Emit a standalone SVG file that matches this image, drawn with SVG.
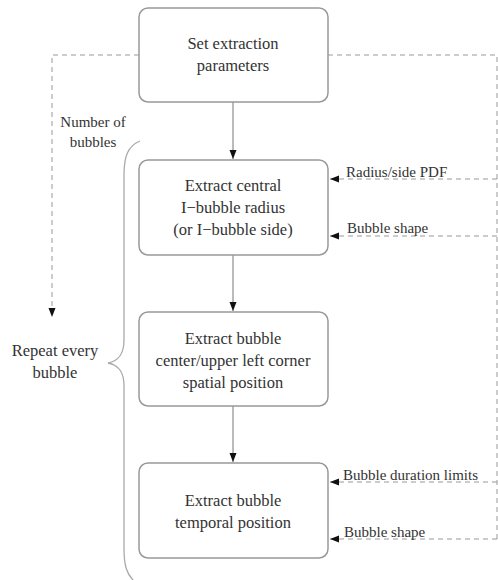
<svg xmlns="http://www.w3.org/2000/svg" width="498" height="580" viewBox="0 0 498 580">
<style>
.box{fill:#fff;stroke:#999;stroke-width:1.5}
.t{font-size:16.5px;fill:#333;text-anchor:middle}
.s{font-size:15px;fill:#333}
.solid{fill:none;stroke:#777;stroke-width:1}
.dash{fill:none;stroke:#999;stroke-width:1;stroke-dasharray:5,4}
.brace{fill:none;stroke:#aaa;stroke-width:1.3}
</style>
<defs>
<marker id="ah" markerWidth="10" markerHeight="8" refX="9" refY="4" orient="auto" markerUnits="userSpaceOnUse">
<path d="M0,0.5 L9,4 L0,7.5 Z" fill="#111"/>
</marker>
</defs>
<rect width="498" height="580" fill="#fff"/>
<g id="connectors">
<line class="solid" x1="233" y1="102" x2="233" y2="159" marker-end="url(#ah)"/>
<line class="solid" x1="233" y1="255" x2="233" y2="311" marker-end="url(#ah)"/>
<line class="solid" x1="233" y1="406" x2="233" y2="462" marker-end="url(#ah)"/>
<polyline class="dash" points="139,55 52,55 52,317" marker-end="url(#ah)"/>
<polyline class="dash" points="328,55 497,55 497,539"/>
<line class="dash" x1="497" y1="179" x2="330" y2="179" marker-end="url(#ah)"/>
<line class="dash" x1="497" y1="236" x2="330" y2="236" marker-end="url(#ah)"/>
<line class="dash" x1="497" y1="482" x2="330" y2="482" marker-end="url(#ah)"/>
<line class="dash" x1="497" y1="539" x2="330" y2="539" marker-end="url(#ah)"/>
<path class="brace" d="M140,141 C128,146 124,156 124,175 L124,340 C124,355 118,361 108,363 C118,365 124,371 124,386 L124,548 C124,566 127,574 133,580"/>
</g>
<g font-family="'Liberation Serif', 'Times New Roman', 'DejaVu Serif', serif">
<g id="n1">
<rect class="box" x="139" y="8" width="189" height="94" rx="9"/>
<text class="t" x="233" y="49">Set extraction</text>
<text class="t" x="233" y="71">parameters</text>
</g>
<g id="n2">
<rect class="box" x="139" y="160" width="189" height="95" rx="9"/>
<text class="t" x="233" y="191">Extract central</text>
<text class="t" x="233" y="213">I−bubble radius</text>
<text class="t" x="233" y="235">(or I−bubble side)</text>
</g>
<g id="n3">
<rect class="box" x="139" y="312" width="189" height="94" rx="9"/>
<text class="t" x="233" y="344">Extract bubble</text>
<text class="t" x="233" y="366">center/upper left corner</text>
<text class="t" x="233" y="388">spatial position</text>
</g>
<g id="n4">
<rect class="box" x="139" y="463" width="189" height="95" rx="9"/>
<text class="t" x="233" y="506">Extract bubble</text>
<text class="t" x="233" y="528">temporal position</text>
</g>
<g id="labels">
<text class="s" x="93" y="127" text-anchor="middle">Number of</text>
<text class="s" x="93" y="147" text-anchor="middle">bubbles</text>
<text class="t" x="55" y="356">Repeat every</text>
<text class="t" x="55" y="378">bubble</text>
<text class="s" x="346" y="177">Radius/side PDF</text>
<text class="s" x="347" y="233">Bubble shape</text>
<text class="s" x="343" y="480">Bubble duration limits</text>
<text class="s" x="344" y="537">Bubble shape</text>
</g>
</g>
</svg>
